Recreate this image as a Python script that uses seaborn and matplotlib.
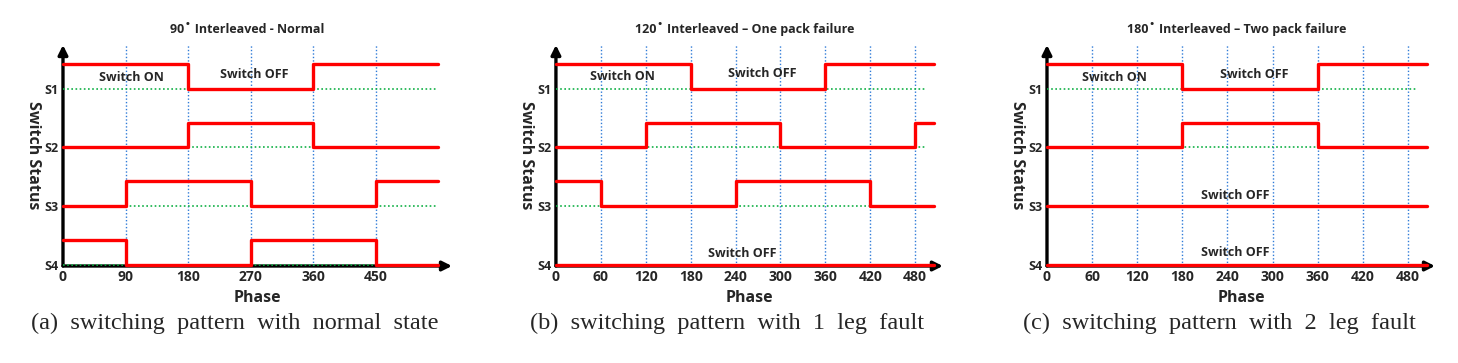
import matplotlib
matplotlib.use("Agg")
import matplotlib.pyplot as plt
import pandas as pd
import seaborn as sns

# ---------------------------------------------------
# Daten: Schaltzustände (1 = ON, 0 = OFF) je Phase
# ---------------------------------------------------
SWITCHES = ["S1", "S2", "S3", "S4"]

PHASE_A = [0, 90, 180, 270, 360, 450, 540]
A_S1 = [1, 1, 0, 0, 1, 1, 1]
A_S2 = [0, 0, 1, 1, 0, 0, 0]
A_S3 = [0, 1, 1, 0, 0, 1, 1]
A_S4 = [1, 0, 0, 1, 1, 0, 0]
TICKS_A = [0, 90, 180, 270, 360, 450]

PHASE_B = [0, 60, 120, 180, 240, 300, 360, 420, 480, 505]
B_S1 = [1, 1, 1, 0, 0, 0, 1, 1, 1, 1]
B_S2 = [0, 0, 1, 1, 1, 0, 0, 0, 1, 1]
B_S3 = [1, 0, 0, 0, 1, 1, 1, 0, 0, 0]
B_S4 = [0, 0, 0, 0, 0, 0, 0, 0, 0, 0]
TICKS_B = [0, 60, 120, 180, 240, 300, 360, 420, 480]

PHASE_C = [0, 60, 120, 180, 240, 300, 360, 420, 480, 505]
C_S1 = [1, 1, 1, 0, 0, 0, 1, 1, 1, 1]
C_S2 = [0, 0, 0, 1, 1, 1, 0, 0, 0, 0]
C_S3 = [0, 0, 0, 0, 0, 0, 0, 0, 0, 0]
C_S4 = [0, 0, 0, 0, 0, 0, 0, 0, 0, 0]
TICKS_C = [0, 60, 120, 180, 240, 300, 360, 420, 480]

TITLES = ["90˚ Interleaved - Normal",
          "120˚ Interleaved – One pack failure",
          "180˚ Interleaved – Two pack failure"]
CAPTIONS = ["(a)  switching  pattern  with  normal  state",
            "(b)  switching  pattern  with  1  leg  fault",
            "(c)  switching  pattern  with  2  leg  fault"]

# Beschriftungen im Diagramm: (Text, Phase, Höhe)
NOTES_A = [("Switch ON", 99, 3.2), ("Switch OFF", 275, 3.24)]
NOTES_B = [("Switch ON", 89, 3.22), ("Switch OFF", 276, 3.26), ("Switch OFF", 249, 0.19)]
NOTES_C = [("Switch ON", 90, 3.2), ("Switch OFF", 276, 3.25),
           ("Switch OFF", 251, 1.18), ("Switch OFF", 250, 0.2)]

LEVEL = {"S1": 3, "S2": 2, "S3": 1, "S4": 0}
AMP = 0.42

sns.set_style("white")
plt.rcParams["font.family"] = ["Open Sans", "DejaVu Sans"]

RED = "#FF0000"
BLUE = "#2F7BD8"
GREEN = "#11B046"


def to_long(phase, signals):
    rows = []
    for name, sig in zip(SWITCHES, signals):
        for p, s in zip(phase, sig):
            rows.append({"phase": p, "switch": name, "y": LEVEL[name] + AMP * s})
    return pd.DataFrame(rows)


def draw_panel(ax, phase, signals, ticks, xmax, title, title_x, notes, green_end):
    df = to_long(phase, signals)

    for x in ticks[1:]:
        ax.axvline(x, color=BLUE, ls=(0, (1, 1.5)), lw=1.0, zorder=1)
    for name in SWITCHES:
        ax.plot([0, green_end], [LEVEL[name]] * 2, color=GREEN, ls=(0, (1, 1.5)),
                lw=1.2, zorder=1)

    for name in SWITCHES:
        sns.lineplot(data=df[df["switch"] == name], x="phase", y="y", ax=ax,
                     color=RED, lw=2.4, drawstyle="steps-post", estimator=None,
                     sort=False, zorder=5, clip_on=False)

    ax.set_xlim(0, xmax)
    ax.set_ylim(-0.025, 3.75)
    ax.set_xticks(ticks)
    ax.set_xticklabels([str(t) for t in ticks], fontsize=10, fontweight="bold")
    ax.set_yticks([LEVEL[s] for s in SWITCHES])
    ax.set_yticklabels(SWITCHES, fontsize=9, fontweight="bold")
    ax.tick_params(length=0, pad=3)
    ax.set_xlabel("Phase", fontsize=11.5, fontweight="bold", labelpad=4)
    ax.set_ylabel("Switch Status", fontsize=11.5, fontweight="bold", rotation=270,
                  labelpad=14, va="bottom")
    ax.set_title(title, fontsize=9, fontweight="bold", x=title_x, pad=9)
    for s in ax.spines.values():
        s.set_visible(False)

    for txt, x, y in notes:
        ax.text(x, y, txt, ha="center", va="center", fontsize=9, fontweight="bold", zorder=6)

    arrow = dict(arrowstyle="-|>", lw=2.4, color="black", mutation_scale=14,
                 shrinkA=0, shrinkB=0)
    ax.annotate("", xy=(1.0, 0), xytext=(0, 0), xycoords="axes fraction",
                arrowprops=arrow, zorder=0.5)
    ax.annotate("", xy=(0, 1.0), xytext=(0, 0), xycoords="axes fraction",
                arrowprops=arrow, zorder=0.5)


fig = plt.figure(figsize=(14.58, 3.63), dpi=100)
bottom, height = 0.2672, 0.6088
ax_a = fig.add_axes([0.0432, bottom, 0.2668, height])
ax_b = fig.add_axes([0.3813, bottom, 0.2654, height])
ax_c = fig.add_axes([0.7181, bottom, 0.2661, height])

draw_panel(ax_a, PHASE_A, [A_S1, A_S2, A_S3, A_S4], TICKS_A, 560, TITLES[0], 0.473, NOTES_A, 540)
draw_panel(ax_b, PHASE_B, [B_S1, B_S2, B_S3, B_S4], TICKS_B, 517, TITLES[1], 0.487, NOTES_B, 495)
draw_panel(ax_c, PHASE_C, [C_S1, C_S2, C_S3, C_S4], TICKS_C, 516, TITLES[2], 0.490, NOTES_C, 492)

for cap, cx in zip(CAPTIONS, [235 / 1458, 727 / 1458, 1219 / 1458]):
    fig.text(cx, 0.108, cap, ha="center", va="center", fontsize=17.5,
             family=["Liberation Serif", "DejaVu Serif"])

fig.savefig("out.png", dpi=100)
